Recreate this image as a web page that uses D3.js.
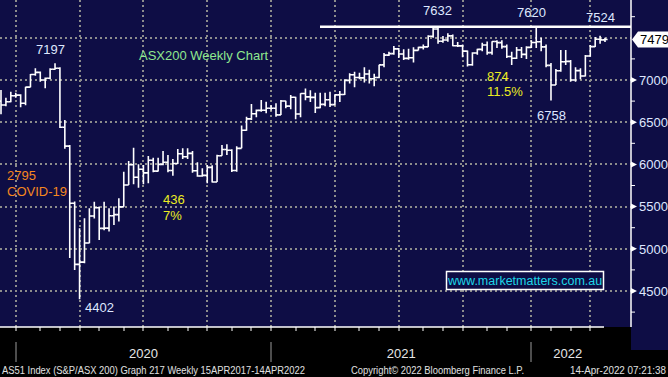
<!DOCTYPE html>
<html><head><meta charset="utf-8">
<script src="https://cdn.jsdelivr.net/npm/d3@7"></script>
<style>html,body{margin:0;padding:0;background:#000;}svg{display:block;}</style>
</head><body><svg id="c" width="668" height="377"></svg>
<script>
// Weekly OHLC, first week ending 6 Dec 2019, last week 14/15 Apr 2022
const firstWeek = "2019-12-06";
const opens  = [6750,6704,6743,6814,6821,6724,6915,7065,7090,7000,7020,7127,7139,6441,6216,5539,4816,4842,5068,5388,5487,5242,5245,5391,5405,5497,5756,5995,5847,5942,5899,6050,5920,6000,6025,5927,6010,6126,6090,6131,5925,5863,5870,5965,5792,6102,6177,6168,5928,6190,6405,6539,6601,6640,6642,6665,6665,6587,6751,6690,6795,6597,6840,6800,6794,6673,6711,6766,6708,6824,6828,6995,7063,7030,7025,7071,7014,7030,7179,7295,7312,7369,7308,7256,7263,7351,7386,7392,7519,7605,7460,7474,7523,7406,7404,7342,7180,7320,7363,7415,7324,7456,7443,7396,7279,7257,7355,7304,7387,7444,7453,7393,7173,6941,7110,7217,7221,7000,7111,7047,7284,7395,7482,7475];
const highs  = [6882,6790,6861,6850,6830,6921,7071,7139,7100,7030,7139,7197,7150,6526,6230,5560,5243,5361,5480,5558,5500,5558,5480,5500,5598,5914,6040,6198,6001,5993,6100,6080,6080,6159,6111,6064,6182,6191,6191,6159,6025,5953,5993,5990,6115,6230,6240,6180,6214,6460,6565,6716,6650,6763,6743,6700,6724,6763,6755,6822,6802,6842,6900,6880,6850,6850,6850,6862,6830,6870,7010,7080,7098,7086,7150,7120,7075,7180,7320,7334,7403,7380,7364,7370,7387,7395,7420,7530,7616,7632,7520,7553,7540,7450,7420,7350,7330,7370,7440,7455,7460,7470,7470,7420,7335,7390,7390,7400,7470,7620,7500,7420,7200,7130,7355,7355,7237,7150,7140,7296,7415,7510,7524,7500];
const lows   = [6594,6690,6735,6790,6677,6700,6915,7051,6980,6902,7010,7120,6431,6185,4891,4749,4402,4830,5065,5360,5104,5220,5204,5282,5322,5497,5756,5764,5724,5764,5776,5906,5915,5990,5906,5866,6005,6064,6064,5900,5855,5855,5776,5787,5792,6102,6111,5910,5914,6190,6400,6526,6560,6624,6605,6640,6566,6585,6665,6653,6534,6560,6760,6740,6610,6665,6690,6680,6700,6740,6822,6960,6913,7010,6970,6960,6925,7020,7150,7283,7300,7260,7237,7240,7206,7350,7360,7390,7500,7430,7440,7454,7400,7390,7270,7160,7170,7300,7340,7300,7300,7380,7370,7260,7178,7250,7260,7250,7380,7380,7340,7150,6758,6941,7098,7178,6980,6980,7010,7040,7276,7390,7430,7450];
const closes = [6704,6743,6814,6821,6724,6915,7065,7090,7000,7020,7127,7139,6441,6216,5539,4816,4842,5068,5388,5487,5242,5245,5391,5405,5497,5756,5995,5847,5942,5899,6050,5920,6000,6025,5927,6010,6126,6090,6131,5925,5863,5870,5965,5792,6102,6177,6168,5928,6190,6405,6539,6601,6640,6642,6665,6665,6587,6751,6690,6795,6597,6840,6800,6794,6673,6711,6766,6708,6824,6828,6995,7063,7030,7025,7071,7014,7030,7179,7295,7312,7369,7308,7256,7263,7351,7386,7392,7519,7605,7460,7474,7523,7406,7404,7342,7180,7320,7363,7415,7324,7456,7443,7396,7279,7257,7355,7304,7387,7444,7453,7393,7173,6941,7110,7217,7221,7000,7111,7047,7284,7395,7482,7475,7479];

const yTicks = [4500,5000,5500,6000,6500,7000];
const yMinor = [4250,4750,5250,5750,6250,6750,7250,7750];
const yGrid  = [4500,5000,5500,6000,6500,7000,7500];
const lastPrice = 7479;
const resistance = 7632;
const yearLabels = ["2020","2021","2022"];

const notes = [
  {t:"7197", v:7197, dx:36, dy:-14, c:"#dfe8ff"},
  {t:"4402", v:4402, dx:85, dy:8, c:"#dfe8ff"},
  {t:"7632", v:7632, dx:423, dy:-16, c:"#dfe8ff"},
  {t:"7620", v:7620, dx:517, dy:-15, c:"#dfe8ff"},
  {t:"7524", v:7524, dx:586, dy:-18, c:"#dfe8ff"},
  {t:"6758", v:6758, dx:537, dy:15, c:"#dfe8ff"}
];

const svg = d3.select("#c");
const W = 668, H = 377, plotR = 631, plotB = 327;
const dates = opens.map((d,i)=>d3.timeDay.offset(new Date(firstWeek+"T00:00:00"), 7*i));
const x = d3.scaleTime().domain([dates[0], dates[dates.length-1]]).range([1, 605]);
const y = d3.scaleLinear().domain([4500, 7000]).range([291, 80]);
const ff = "Liberation Sans, Arial, sans-serif";

svg.append("rect").attr("width",W).attr("height",H).attr("fill","#000");
svg.append("rect").attr("x",0).attr("y",0).attr("width",plotR).attr("height",plotB).attr("fill","#0e0d45");
svg.append("rect").attr("x",plotR).attr("y",0).attr("width",W-plotR).attr("height",350).attr("fill","#0e0d45");

// quarter / month boundaries = last bar of month
const monthEnd = dates.filter((d,i)=> i<dates.length-1 && dates[i+1].getMonth()!==d.getMonth());
const quarterEnd = monthEnd.filter(d=> d.getMonth()%3===2);
const yearEnd = monthEnd.filter(d=> d.getMonth()===11);

const grid = svg.append("g").attr("stroke","#8c8c8c").attr("stroke-width",2).attr("stroke-dasharray","2,3");
grid.selectAll(".h").data(yGrid).join("line").attr("x1",0).attr("x2",plotR).attr("y1",d=>Math.round(y(d))).attr("y2",d=>Math.round(y(d)));
grid.selectAll(".v").data(quarterEnd).join("line").attr("x1",d=>Math.round(x(d))).attr("x2",d=>Math.round(x(d))).attr("y1",0).attr("y2",plotB);

// bars
svg.append("clipPath").attr("id","cp").append("rect").attr("width",plotR).attr("height",plotB);
const bars = svg.append("g").attr("clip-path","url(#cp)").attr("stroke","#fff").attr("stroke-width",1.6).attr("fill","none");
const tick = 2.6;
bars.selectAll("path").data(dates).join("path")
  .attr("d",(d,i)=>{const cx=x(d);return `M${cx},${y(highs[i])}V${y(lows[i])}M${cx-tick},${y(opens[i])}H${cx}M${cx},${y(closes[i])}H${cx+tick}`;});

// resistance line
svg.append("line").attr("x1",320).attr("x2",plotR).attr("y1",y(resistance)).attr("y2",y(resistance)).attr("stroke","#fff").attr("stroke-width",2.5);

// axes lines
svg.append("line").attr("x1",0).attr("x2",604).attr("y1",plotB).attr("y2",plotB).attr("stroke","#fff").attr("stroke-width",1.5);
svg.append("line").attr("x1",plotR).attr("x2",plotR).attr("y1",0).attr("y2",plotB).attr("stroke","#fff").attr("stroke-width",1.5);
svg.append("g").selectAll("line").data(monthEnd).join("line")
  .attr("x1",d=>Math.round(x(d))).attr("x2",d=>Math.round(x(d))).attr("y1",plotB).attr("y2",plotB+4).attr("stroke","#fff").attr("stroke-width",1);

// right axis
const ra = svg.append("g");
ra.selectAll(".mn").data(yMinor).join("line").attr("x1",plotR).attr("x2",plotR+4).attr("y1",d=>y(d)).attr("y2",d=>y(d)).attr("stroke","#fff").attr("stroke-width",1);
ra.selectAll(".tri").data(yTicks).join("path").attr("d",d=>`M${plotR},${y(d)-3}L${plotR+6},${y(d)}L${plotR},${y(d)+3}Z`).attr("fill","#fff");
ra.selectAll("text").data(yTicks).join("text").attr("x",639).attr("y",d=>y(d)+4.7)
  .attr("fill","#dfe6ff").attr("font-family",ff).attr("font-size",13).text(d=>d);

// last price flag
const ly = y(lastPrice);
svg.append("path").attr("d",`M${plotR+1},${ly}L${plotR+7},${ly-8}H668V${ly+8}H${plotR+7}Z`).attr("fill","#fff");
svg.append("text").attr("x",640).attr("y",ly+4.7).attr("fill","#000").attr("font-family",ff).attr("font-size",13).text(lastPrice);

// annotations
svg.append("g").selectAll("text").data(notes).join("text").attr("x",d=>d.dx).attr("y",d=>y(d.v)+d.dy+4.7)
  .attr("fill",d=>d.c).attr("font-family",ff).attr("font-size",13).text(d=>d.t);
const txt = (t,xx,yy,c,fs)=>svg.append("text").attr("x",xx).attr("y",yy).attr("fill",c).attr("font-family",ff).attr("font-size",fs||13).text(t);
txt("ASX200 Weekly Chart",139,60,"#8fe88f");
txt("2795",7,180,"#f5871f");
txt("COVID-19",7,196,"#f5871f");
txt("436",163,204,"#ecec22");
txt("7%",163,220,"#ecec22");
txt("874",487,81,"#ecec22");
txt("11.5%",487,96,"#ecec22");

// website box
svg.append("rect").attr("x",446.5).attr("y",271.5).attr("width",157).attr("height",18).attr("fill","#0e0d45").attr("stroke","#fff").attr("stroke-width",1.5);
txt("www.marketmatters.com.au",448,285,"#1ed6e8",12.5);

// bottom strip: year separators & labels
svg.append("g").selectAll("line").data(yearEnd).join("line").attr("x1",d=>Math.round(x(d))).attr("x2",d=>Math.round(x(d))).attr("y1",342).attr("y2",362).attr("stroke","#9a9a9a").attr("stroke-width",1);
const spans = yearEnd.map((d,i)=>[x(d), i<yearEnd.length-1 ? x(yearEnd[i+1]) : 604]);
svg.append("g").selectAll("text").data(yearLabels).join("text").attr("x",(d,i)=>(spans[i][0]+spans[i][1])/2).attr("y",358)
  .attr("text-anchor","middle").attr("fill","#e6e6e6").attr("font-family",ff).attr("font-size",13).text(d=>d);

const foot = (t,xx,len)=>svg.append("text").attr("x",xx).attr("y",374).attr("fill","#e0e0e0").attr("font-family",ff).attr("font-size",10).attr("textLength",len).attr("lengthAdjust","spacingAndGlyphs").text(t);
foot("AS51 Index (S&P/ASX 200) Graph 217  Weekly 15APR2017-14APR2022",2,303);
foot("Copyright\u00a9 2022 Bloomberg Finance L.P.",351,173);
foot("14-Apr-2022 07:21:38",570,96);
</script></body></html>
